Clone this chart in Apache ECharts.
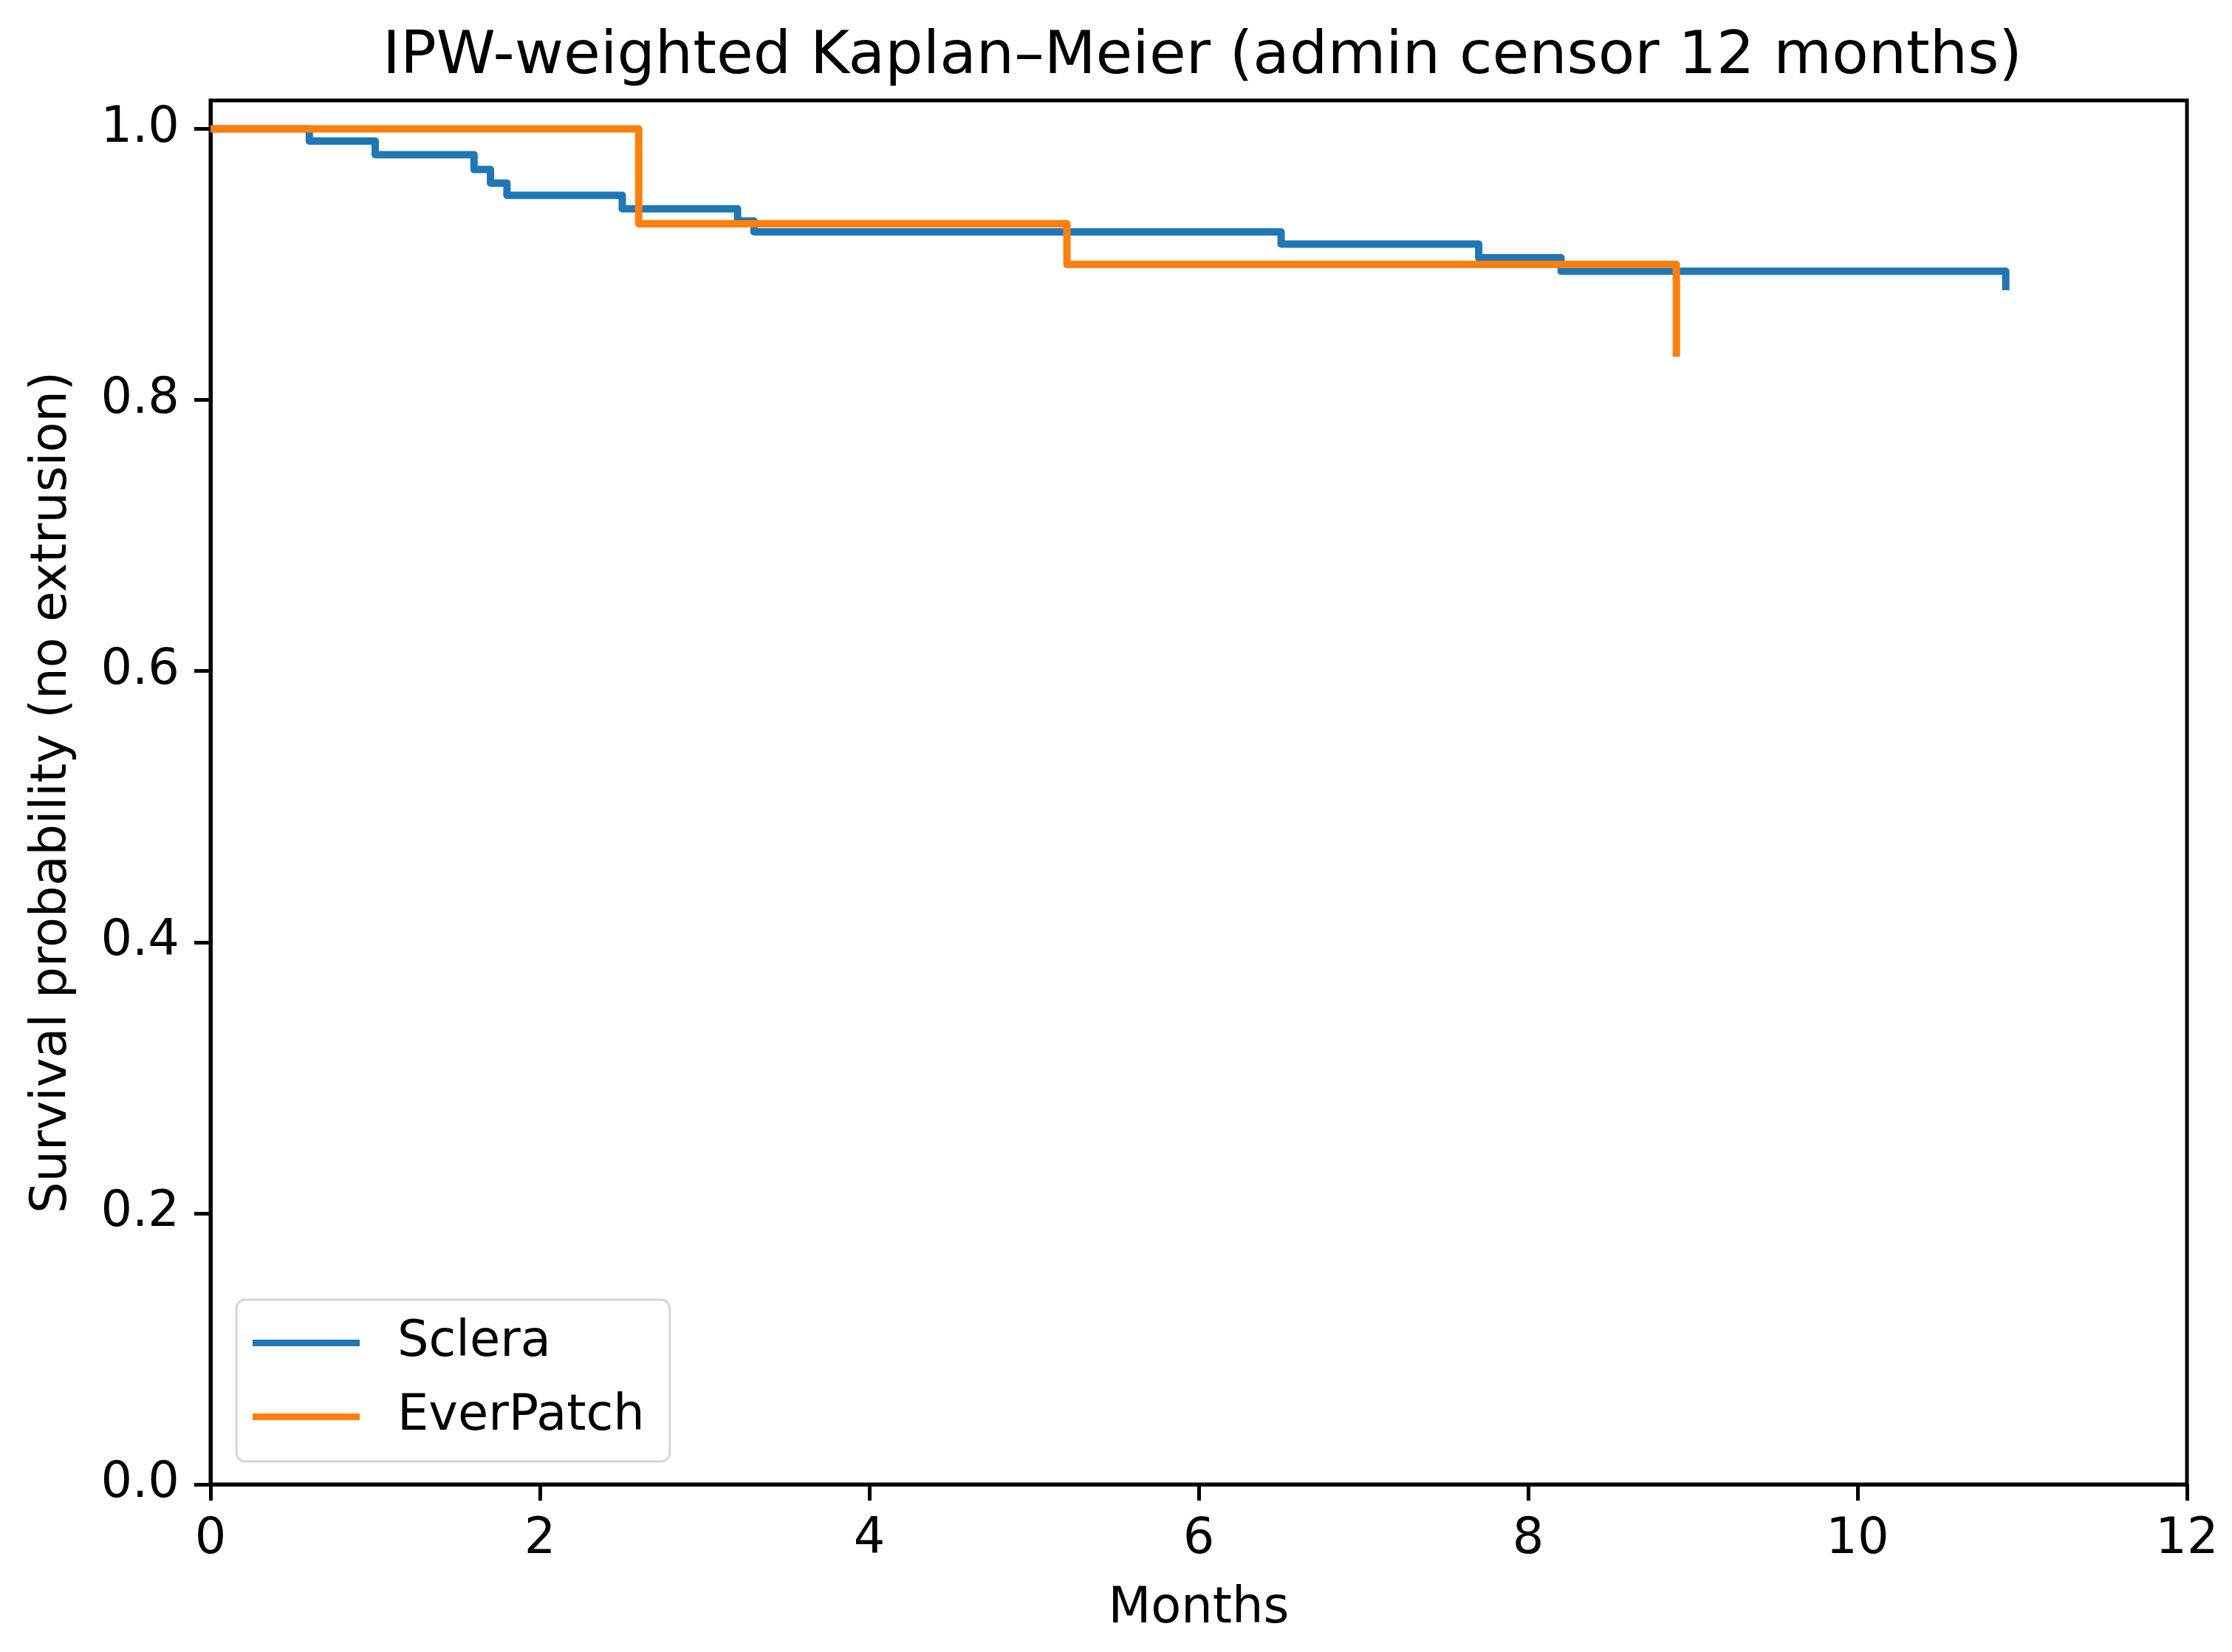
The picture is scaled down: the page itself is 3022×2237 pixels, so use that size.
<!DOCTYPE html>
<html>
<head>
<meta charset="utf-8">
<script src="https://cdn.jsdelivr.net/npm/echarts@6/dist/echarts.min.js"></script>
<style>
  html, body { margin: 0; padding: 0; background: #fff; }
  #chart { width: 3022px; height: 2237px; }
</style>
</head>
<body>
<div id="chart"></div>
<script>
// KM step data
const scleraMonths = [0, 0.6, 1.0, 1.6, 1.7, 1.8, 2.5, 3.2, 3.3, 6.5, 7.7, 8.2, 10.9, 10.9];
const scleraSurv   = [1.0, 0.991, 0.981, 0.970, 0.960, 0.951, 0.941, 0.932, 0.924, 0.915, 0.905, 0.895, 0.895, 0.881];
const everMonths = [0, 2.6, 5.2, 8.9, 8.9];
const everSurv   = [1.0, 0.930, 0.900, 0.900, 0.832];
const yTicks = [0, 0.2, 0.4, 0.6, 0.8, 1.0];

const FONT = 'DejaVu Sans';

function pairs(xs, ys) {
  return xs.map((x, i) => [x, ys[i]]);
}

const chart = echarts.init(document.getElementById('chart'), null, { renderer: 'canvas' });
chart.setOption({
  animation: false,
  backgroundColor: '#ffffff',
  title: {
    text: 'IPW-weighted Kaplan\u2013Meier (admin censor 12 months)',
    left: 1623,
    textAlign: 'center',
    top: 32,
    textStyle: { fontFamily: FONT, fontSize: 81, fontWeight: 'normal', color: '#000' }
  },
  grid: {
    left: 285, right: 61, top: 136, bottom: 227,
    show: true, borderColor: '#000', borderWidth: 5, backgroundColor: 'transparent'
  },
  legend: {
    orient: 'vertical',
    left: 320, top: 1760,
    icon: 'rect',
    itemWidth: 145, itemHeight: 9,
    itemGap: 33,
    padding: [25, 34, 27, 22],
    borderColor: '#d6d6d6', borderWidth: 3, borderRadius: 12,
    backgroundColor: 'rgba(255,255,255,0.8)',
    textStyle: { fontFamily: FONT, fontSize: 67, color: '#000', padding: [0, 0, 0, 46] },
    data: ['Sclera', 'EverPatch']
  },
  xAxis: {
    type: 'value',
    min: 0, max: 12, interval: 2,
    name: 'Months',
    nameLocation: 'middle',
    nameGap: 136,
    nameTextStyle: { fontFamily: FONT, fontSize: 67, color: '#000' },
    axisLine: { show: true, lineStyle: { color: '#000', width: 5 } },
    axisTick: { show: true, inside: false, length: 22, lineStyle: { color: '#000', width: 5 } },
    axisLabel: { fontFamily: FONT, fontSize: 67, color: '#000', margin: 42 },
    splitLine: { show: false }
  },
  yAxis: {
    type: 'value',
    min: 0, max: 1.021,
    name: 'Survival probability (no extrusion)',
    nameLocation: 'middle',
    nameGap: 180,
    nameTextStyle: { fontFamily: FONT, fontSize: 67, color: '#000' },
    axisLine: { show: true, lineStyle: { color: '#000', width: 5 } },
    axisTick: { show: true, inside: false, length: 22, customValues: yTicks, lineStyle: { color: '#000', width: 5 } },
    axisLabel: {
      fontFamily: FONT, fontSize: 67, color: '#000', margin: 42,
      customValues: yTicks,
      formatter: v => v.toFixed(1)
    },
    splitLine: { show: false }
  },
  series: [
    {
      name: 'Sclera',
      type: 'line',
      step: 'end',
      symbol: 'none',
      color: '#1f77b4',
      lineStyle: { width: 10, color: '#1f77b4', join: 'round' },
      data: pairs(scleraMonths, scleraSurv)
    },
    {
      name: 'EverPatch',
      type: 'line',
      step: 'end',
      symbol: 'none',
      color: '#ff7f0e',
      lineStyle: { width: 10, color: '#ff7f0e', join: 'round' },
      data: pairs(everMonths, everSurv)
    }
  ]
});
</script>
</body>
</html>
